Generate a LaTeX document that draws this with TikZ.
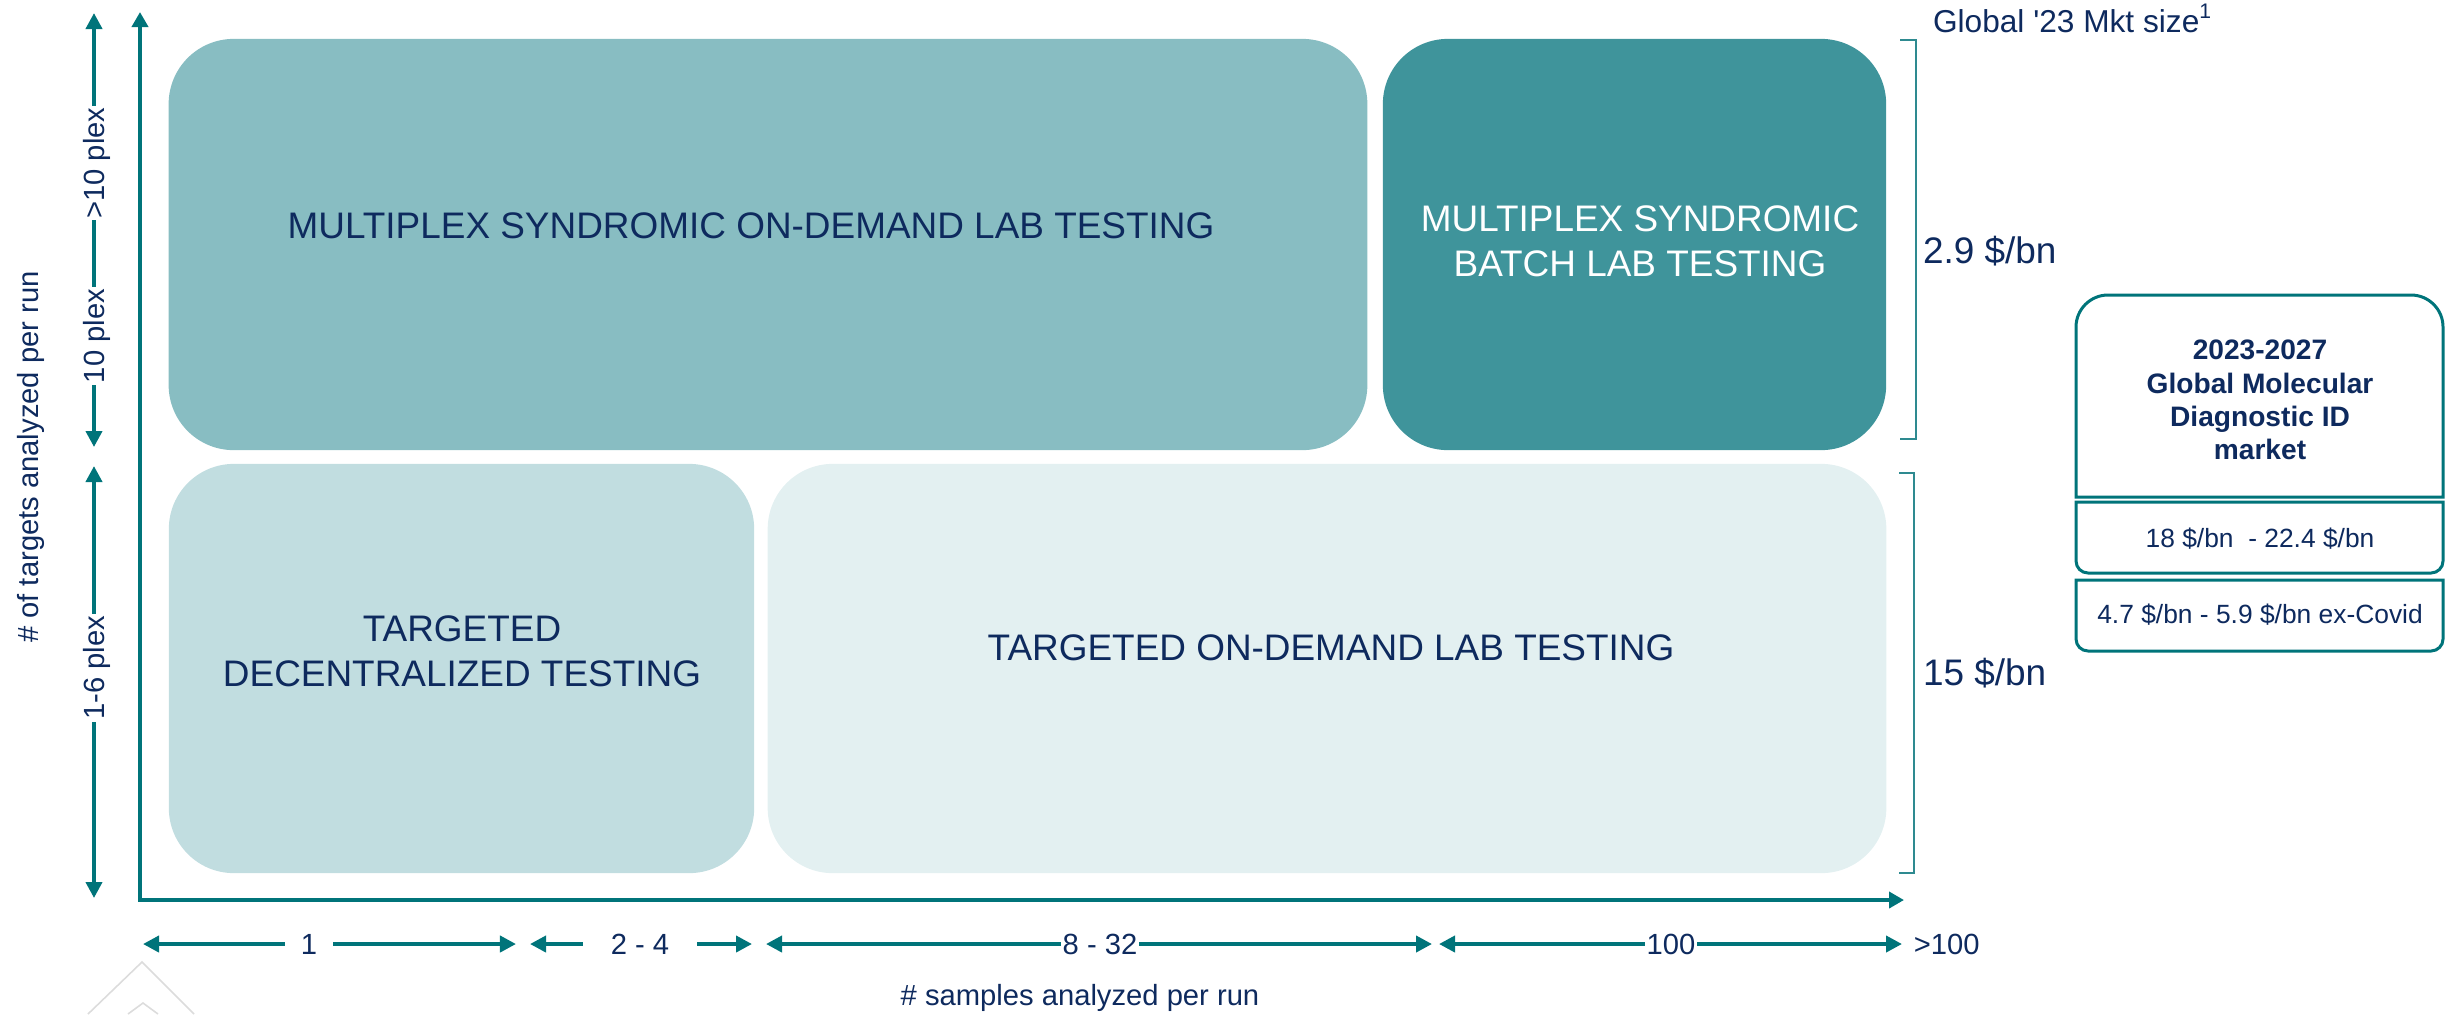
\documentclass[tikz,border=0pt]{standalone}
\usepackage{fontspec}
\setmainfont{Liberation Sans}
\usetikzlibrary{arrows.meta}
\definecolor{navy}{HTML}{0E2A5E}
\definecolor{tealline}{HTML}{00747A}
\definecolor{boxA}{HTML}{88BDC2}
\definecolor{boxB}{HTML}{3F949B}
\definecolor{boxC}{HTML}{C1DDE0}
\definecolor{boxD}{HTML}{E3F0F1}
\definecolor{brk}{HTML}{2E8A90}
\definecolor{wmgray}{HTML}{DCDCDC}
\begin{document}
\begin{tikzpicture}[x=0.01cm,y=-0.01cm,
  every node/.style={text=navy, inner sep=0pt, outer sep=0pt},
  zone/.style={rectangle, rounded corners=0.65cm, draw=none, inner sep=0pt, outer sep=0pt},
  zonetext/.style={align=center, font=\fontsize{10.5}{12.8}\selectfont},
  axisline/.style={draw=tealline, line width=1.15pt, {Triangle[length=0.15cm,width=0.16cm]}-{Triangle[length=0.15cm,width=0.16cm]}},
  rangearrow/.style={draw=tealline, line width=1.1pt, {Triangle[length=0.16cm,width=0.16cm]}-{Triangle[length=0.16cm,width=0.16cm]}},
  rangelabel/.style={font=\fontsize{8.3}{10}\selectfont, fill=white, text depth=0pt, inner ysep=1pt, inner xsep=0.5pt},
  axistitle/.style={font=\fontsize{8.3}{10}\selectfont},
  bracketline/.style={draw=brk, line width=0.5pt},
  mboxline/.style={draw=tealline, line width=0.85pt, fill=white},
  valuetext/.style={anchor=base west, font=\fontsize{10.5}{12}\selectfont},
]
\useasboundingbox (0,0) rectangle (2458,1014);

% zones
\node[zone, fill=boxA, minimum width=11.98cm, minimum height=4.11cm] (zoneMSOD) at (768,244.5) {};
\node[zone, fill=boxB, minimum width=5.03cm, minimum height=4.11cm] (zoneMSB) at (1634.5,244.5) {};
\node[zone, fill=boxC, minimum width=5.85cm, minimum height=4.09cm] (zoneTD) at (461.5,668.5) {};
\node[zone, fill=boxD, minimum width=11.18cm, minimum height=4.09cm] (zoneTOD) at (1327,668.5) {};

\node[zonetext] (tMSOD) at (751,226) {MULTIPLEX SYNDROMIC ON-DEMAND LAB TESTING};
\node[zonetext, text=white] (tMSB) at (1640,241) {MULTIPLEX SYNDROMIC\\BATCH LAB TESTING};
\node[zonetext] (tTD) at (462,651) {TARGETED\\DECENTRALIZED TESTING};
\node[zonetext] (tTOD) at (1331,648) {TARGETED ON-DEMAND LAB TESTING};

% axes
\coordinate (ytop) at (140,12);
\coordinate (origin) at (140,900);
\coordinate (xend) at (1904,900);
\draw[axisline] (ytop) -- (origin) -- (xend);

% vertical ranges
\coordinate (u1) at (94,13);
\coordinate (u2) at (94,447);
\coordinate (l1) at (94,466);
\coordinate (l2) at (94,898);
\draw[rangearrow] (u1) -- (u2);
\draw[rangearrow] (l1) -- (l2);
\node[rangelabel, rotate=90] (gt10) at (94,163) {>10 plex};
\node[rangelabel, rotate=90] (eq10) at (94,336) {10 plex};
\node[rangelabel, rotate=90] (p16) at (94,668) {1-6 plex};
\node[axistitle, rotate=90] (ylabel) at (31,457) {\# of targets analyzed per run};

% horizontal ranges
\coordinate (a1) at (143,944);
\coordinate (a2) at (516,944);
\coordinate (b1) at (530,944);
\coordinate (b2) at (752,944);
\coordinate (c1) at (766,944);
\coordinate (c2) at (1432,944);
\coordinate (d1) at (1439,944);
\coordinate (d2) at (1902,944);
\draw[rangearrow] (a1) -- (a2);
\draw[rangearrow] (b1) -- (b2);
\draw[rangearrow] (c1) -- (c2);
\draw[rangearrow] (d1) -- (d2);
\node[rangelabel, inner xsep=4.5pt] (n1) at (309,944) {1};
\node[rangelabel, inner xsep=8pt] (n24) at (640,944) {2 - 4};
\node[rangelabel] (n832) at (1100,944) {8 - 32};
\node[rangelabel] (n100) at (1671,944) {100};
\node[rangelabel, anchor=west] (ngt100) at (1912,944) {>100};
\node[axistitle] (xlabel) at (1080,998) {\# samples analyzed per run};

% brackets and values
\draw[bracketline] (1900,40) -- (1916,40) -- (1916,439) -- (1900,439);
\draw[bracketline] (1899,473) -- (1914,473) -- (1914,873) -- (1899,873);
\node[anchor=base west, font=\fontsize{9}{11}\selectfont] (mkt) at (1933,32) {Global \textquotesingle 23 Mkt size\textsuperscript{1}};
\node[valuetext] (v29) at (1923,263) {2.9 \$/bn};
\node[valuetext] (v15) at (1923,685) {15 \$/bn};

% market box
\draw[mboxline] (2076,497) -- (2076,327) arc[start angle=180,end angle=270,radius=32] -- (2411,295) arc[start angle=270,end angle=360,radius=32] -- (2443,497) -- cycle;
\draw[mboxline] (2076,502) -- (2443,502) -- (2443,561) arc[start angle=0,end angle=90,radius=12] -- (2088,573) arc[start angle=90,end angle=180,radius=12] -- cycle;
\draw[mboxline] (2076,580) -- (2443,580) -- (2443,639) arc[start angle=0,end angle=90,radius=12] -- (2088,651) arc[start angle=90,end angle=180,radius=12] -- cycle;
\node[align=center, font=\bfseries\fontsize{8}{9.45}\selectfont] (mdtitle) at (2260,400) {2023-2027\\Global Molecular\\Diagnostic ID\\market};
\node[font=\fontsize{7.5}{9}\selectfont] (mdr1) at (2260,539) {18 \$/bn\ \ - 22.4 \$/bn};
\node[font=\fontsize{7.5}{9}\selectfont] (mdr2) at (2260,615) {4.7 \$/bn - 5.9 \$/bn ex-Covid};

% faint watermark chevrons
\draw[wmgray, line width=0.45pt] (88,1014) -- (142,962) -- (194,1014);
\draw[wmgray, line width=0.45pt] (128,1014) -- (143,1003) -- (158,1014);
\end{tikzpicture}
\end{document}
